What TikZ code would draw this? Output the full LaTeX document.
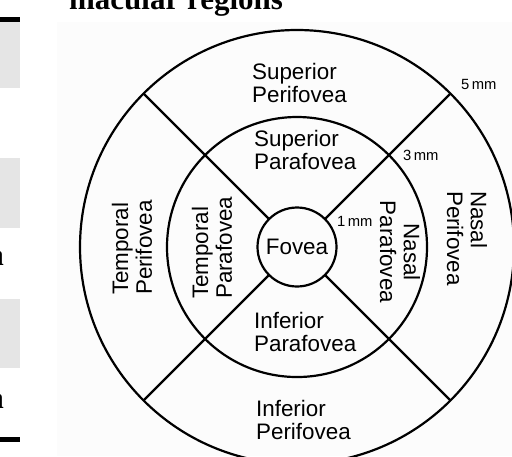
\documentclass[tikz,border=0pt]{standalone}
\usepackage{fontspec}
\setmainfont{Liberation Sans}
\newfontfamily\pagefont{Liberation Serif}
\usetikzlibrary{positioning}

\begin{document}
\begin{tikzpicture}[x=0.5pt,y=-0.5pt,line width=1.1pt,
  ring/.style={draw,circle,inner sep=0pt,outer sep=0pt},
  region/.style={align=left,inner sep=0pt,font=\fontsize{11.2}{11.8}\selectfont},
  size/.style={inner sep=0pt,anchor=west,font=\fontsize{7.4}{8}\selectfont},
  pagetxt/.style={inner sep=0pt,font=\pagefont\bfseries\fontsize{15.5}{16}\selectfont}]
\useasboundingbox (0,0) rectangle (512,456);
\clip (0,0) rectangle (512,456);
% bits of the page round the figure
\fill[black!1] (57,22) rectangle (512,456);
\fill (0,17) rectangle (20,22);
\fill[black!10] (0,22) rectangle (20,88);
\fill[black!10] (0,158) rectangle (20,228);
\fill[black!10] (0,299) rectangle (20,368);
\fill (0,437) rectangle (20,442);
\node[pagetxt,anchor=base west] (title) at (68,9) {macular regions};
\node[pagetxt,anchor=base east] (a1) at (5,265) {a};
\node[pagetxt,anchor=base east] (a2) at (5,408) {a};
% rings
\coordinate (c) at (297,247);
\node[ring,minimum size=217pt] (peri) at (c) {};
\node[ring,minimum size=130pt] (para) at (c) {};
\node[ring,minimum size=39.5pt,region,inner sep=0pt] (fovea) at (c) {Fovea};
\foreach \a in {45,135,225,315} \draw (fovea.\a) -- (peri.\a);
% regions
\node[region,anchor=west] (supperi) at (251,83) {Superior\\Perifovea};
\node[region,anchor=west] (suppara) at (253,150) {Superior\\Parafovea};
\node[region,anchor=west] (infpara) at (253,332) {Inferior\\Parafovea};
\node[region,anchor=west] (infperi) at (255,420) {Inferior\\Perifovea};
\node[region,rotate=90,anchor=west] (temperi) at (132,296) {Temporal\\Perifovea};
\node[region,rotate=90,anchor=west] (tempara) at (212,300) {Temporal\\Parafovea};
\node[region,rotate=-90,anchor=west] (nasperi) at (467,190) {Nasal\\Perifovea};
\node[region,rotate=-90,align=center] (naspara) at (400,252) {Nasal\\Parafovea};
% sizes
\node[size] (mm5) at (460,84) {5\,mm};
\node[size] (mm3) at (402,155) {3\,mm};
\node[size] (mm1) at (336,221) {1\,mm};
\end{tikzpicture}
\end{document}
